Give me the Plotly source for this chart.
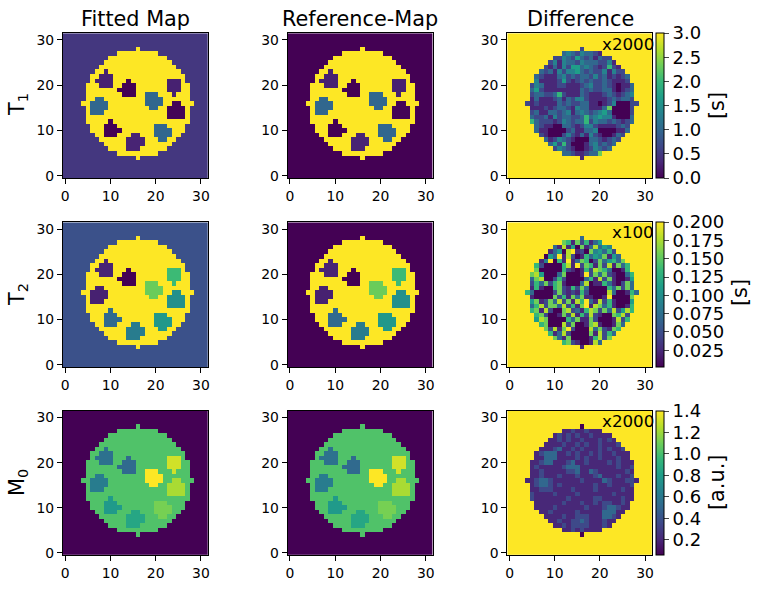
import plotly.graph_objects as go

WIDTH, HEIGHT = 761, 589

# Phantom layout, top row first: "." air, "w" water, A-I the vials.
PHANTOM_ROWS = [
    "................................",
    "................................",
    "................................",
    "................w...............",
    "............wwwwwwwww...........",
    "..........wwwwwwwwwwwww.........",
    ".........wwwwwwwwwwwwwww........",
    "........wwwwwwwwwwwwwwwww.......",
    ".......wwAwwwwwwwwwwwwwwww......",
    "......wwAAAwwwwwwwwwwwwwwww.....",
    "......wAAAAwwwBwwwwwwwwCCCw.....",
    ".....wwwAAAwwBBBwwwwwwwCCCww....",
    ".....wwwwwwwBBBBwwwwwwwCCCww....",
    ".....wwwwwwwwBBBwwDDDwwwCwww....",
    ".....wwFFwwwwwwwwwDDDDwwwwww....",
    "....wwFFFFwwwwwwwwDDDDwwEEwww...",
    ".....wFFFFwwwwwwwwwDDwwEEEEw....",
    ".....wFFFwwwwwwwwwwwwwwEEEEw....",
    ".....wwwwwwwwwwwwwwwwwwEEEEw....",
    ".....wwwwwGwwwwwwwwwwwwwwwww....",
    "......wwwGGGwwwwwwwwIIIwwww.....",
    "......wwwGGGGwwwwwwwIIIIwww.....",
    ".......wwGGGwwwHHwwwIIIIww......",
    "........wwwwwwHHHHwwwIIww.......",
    ".........wwwwwHHHHwwwwww........",
    "..........wwwwHHHwwwwww.........",
    "............wwwwwwwww...........",
    "................w...............",
    "................................",
    "................................",
    "................................",
    "................................",
]

# Normalised colour level of each region in the two left-hand columns.
T1_LEVELS = dict(w=1.0, A=0.09, B=0.0, C=0.09, D=0.33, E=0.01, F=0.33, G=0.0, H=0.1, I=0.33)
T2_LEVELS = dict(w=1.0, A=0.1, B=0.0, C=0.68, D=0.77, E=0.5, F=0.09, G=0.34, H=0.42, I=0.53)
M0_LEVELS = dict(w=0.72, A=0.37, B=0.34, C=0.93, D=1.0, E=0.87, F=0.42, G=0.54, H=0.59, I=0.79)
T1_AIR_FITTED = 0.16
T2_AIR_FITTED = 0.25

# Difference maps in tenths of the colour range, one string per row of the disc (rows 28 to 4).
T1_DIFF = [
    "2", "34324 3321", "22432 53231 322", "24143 32433 32241", "21314 25534 32126 21",
    "32314 24453 23224 1422", "32111 34232 33242 31212 3", "41111 25212 32322 32111 2",
    "24311 12211 12342 23210 113", "35211 11111 13232 23310 123", "23322 36211 13211 12321 234",
    "13111 23132 44211 11232 332", "21211 11323 22331 10124 00022", "11121 23321 43311 13700 002",
    "23113 32341 34323 45300 002", "32231 42332 23634 54410 003", "63222 12432 33624 33232 123",
    "32110 03321 24421 11123 2", "31100 00231 13340 00011 3", "21000 24213 14210 0132",
    "31243 21000 33212 32", "35262 00013 42323", "24321 00124 323", "33211 2337", "1",
]
T2_DIFF = [
    "3", "76172 6135", "31815 07138 354", "13508 91207 45362", "05391 82016 35471 53",
    "14906 19137 60273 5637", "62000 06819 27617 28173 6", "70000 06210 16287 63001 6",
    "78500 03700 01927 37210 036", "37800 26200 00361 82710 015", "26372 67100 03801 16310 273",
    "16100 67216 27300 00637 273", "63000 02721 21620 00083 00163", "10000 72617 37110 01900 007",
    "57127 38271 86931 82610 005", "36827 73826 17918 73610 016", "67182 00782 31687 27382 586",
    "67200 17281 62821 00768 2", "58700 00637 11720 00182 6", "67000 82700 17810 0173",
    "72817 92000 83721 76", "61382 00007 18263", "73170 00016 827", "67210 0183", "1",
]
M0_DIFF = [
    "0", "11211 2111", "12121 21121 111", "11212 11211 12121", "11112 11212 11211 12",
    "11123 11212 11121 2112", "12333 11212 11212 11211 1", "11333 11112 12112 11121 1",
    "11233 11123 11211 11212 111", "12111 11233 31111 11112 112", "11211 11122 31132 11111 121",
    "11211 12111 21112 31112 112", "11233 21111 11211 11321 11221", "12332 12111 11112 11211 112",
    "11222 11112 11112 11111 211", "21111 21111 21111 11121 111", "21111 11121 11112 21111 211",
    "11111 12111 21121 22112 1", "11112 11111 12111 23321 1", "11211 11121 11113 3311",
    "11112 11222 11133 21", "11211 22321 11211", "11212 22211 121", "11212 1111", "0",
]

COLUMN_TITLES = ["Fitted Map", "Reference-Map", "Difference"]
ROW_TITLES = ["T<sub>1</sub>", "T<sub>2</sub>", "M<sub>0</sub>"]
SCALE_LABELS = ["x2000", "x100", "x2000"]
UNIT_TITLES = ["[s]", "[s]", "[a.u.]"]
T1_TICKS = [0.0, 0.5, 1.0, 1.5, 2.0, 2.5, 3.0]
T2_TICKS = [0.025, 0.05, 0.075, 0.1, 0.125, 0.15, 0.175, 0.2]
M0_TICKS = [0.2, 0.4, 0.6, 0.8, 1.0, 1.2, 1.4]
TICK_TEXT = [
    ["0.0", "0.5", "1.0", "1.5", "2.0", "2.5", "3.0"],
    ["0.025", "0.050", "0.075", "0.100", "0.125", "0.150", "0.175", "0.200"],
    ["0.2", "0.4", "0.6", "0.8", "1.0", "1.2", "1.4"],
]
DIFF_RANGE = [(0.0, 3.0), (0.002, 0.2), (0.06, 1.4)]

# Panel edges on the page, in pixels.
COL_EDGES = [(63.0, 207.7), (287.7, 432.6), (507.3, 651.8)]
ROW_EDGES = [(33.2, 178.0), (222.3, 366.9), (410.8, 555.2)]
FONT = "DejaVu Sans"


def region_map(levels, air):
    """Turn the phantom layout into a map of values, bottom row first."""
    return [[air if c == "." else levels[c] for c in row] for row in reversed(PHANTOM_ROWS)]


def difference_map(rows, low, high):
    """Expand disc rows into a full map; everything outside the disc saturates."""
    grid = [[high] * 32 for _ in range(32)]
    for offset, row in enumerate(rows):
        digits = row.replace(" ", "")
        y = 28 - offset
        layout_row = PHANTOM_ROWS[31 - y].rstrip(".")
        start = len(layout_row) - len(layout_row.lstrip("."))
        if len(digits) != len(layout_row) - start:
            raise ValueError(f"row {y}: {len(digits)} cells")
        for i, d in enumerate(digits):
            grid[y][start + i] = low + (high - low) * int(d) / 9
    return grid


panels = [
    [region_map(T1_LEVELS, T1_AIR_FITTED), region_map(T1_LEVELS, 0.0), difference_map(T1_DIFF, *DIFF_RANGE[0])],
    [region_map(T2_LEVELS, T2_AIR_FITTED), region_map(T2_LEVELS, 0.0), difference_map(T2_DIFF, *DIFF_RANGE[1])],
    [region_map(M0_LEVELS, 0.0), region_map(M0_LEVELS, 0.0), difference_map(M0_DIFF, *DIFF_RANGE[2])],
]
bar_ticks = [T1_TICKS, T2_TICKS, M0_TICKS]

fig = go.Figure()
layout_axes = {}
annotations = []


def page_x(px):
    return px / WIDTH


def page_y(py):
    return 1 - py / HEIGHT


for r in range(3):
    y0, y1 = ROW_EDGES[r]
    for c in range(3):
        x0, x1 = COL_EDGES[c]
        n = r * 3 + c + 1
        suffix = "" if n == 1 else str(n)
        trace = dict(
            z=panels[r][c],
            x=list(range(32)),
            y=list(range(32)),
            colorscale="Viridis",
            xaxis=f"x{suffix}",
            yaxis=f"y{suffix}",
            showscale=False,
            hoverinfo="skip",
        )
        if c == 2:
            low, high = DIFF_RANGE[r]
            trace.update(
                zmin=low,
                zmax=high,
                showscale=True,
                colorbar=dict(
                    x=page_x(656),
                    xanchor="left",
                    xpad=0,
                    y=page_y((y0 + y1) / 2),
                    yanchor="middle",
                    ypad=0,
                    len=(y1 - y0) / HEIGHT,
                    lenmode="fraction",
                    thickness=8.3,
                    thicknessmode="pixels",
                    outlinewidth=1,
                    outlinecolor="#000",
                    ticks="outside",
                    ticklen=5,
                    tickwidth=1.1,
                    tickvals=bar_ticks[r],
                    ticktext=TICK_TEXT[r],
                    tickfont=dict(family=FONT, size=18, color="#000"),
                ),
            )
        else:
            trace.update(zmin=0.0, zmax=1.0)
        fig.add_trace(go.Heatmap(**trace))

        common = dict(
            range=[-0.5, 31.5],
            tickvals=[0, 10, 20, 30],
            ticks="outside",
            ticklen=5,
            tickwidth=1.1,
            tickcolor="#000",
            showline=True,
            mirror=True,
            linecolor="#000",
            linewidth=1.1,
            showgrid=False,
            zeroline=False,
            tickfont=dict(family=FONT, size=13.9, color="#000"),
        )
        layout_axes[f"xaxis{suffix}"] = dict(common, domain=[page_x(x0), page_x(x1)], anchor=f"y{suffix}")
        layout_axes[f"yaxis{suffix}"] = dict(common, domain=[page_y(y1), page_y(y0)], anchor=f"x{suffix}")


def note(text, px, py, size, angle=0, xanchor="center"):
    annotations.append(
        dict(
            text=text,
            x=page_x(px),
            y=page_y(py),
            xref="paper",
            yref="paper",
            xanchor=xanchor,
            yanchor="middle",
            showarrow=False,
            textangle=angle,
            font=dict(family=FONT, size=size, color="#000"),
        )
    )


for title, px in zip(COLUMN_TITLES, (135.3, 360, 580)):
    note(title, px, 19, 20.8)
for title, py in zip(ROW_TITLES, (105, 295, 483)):
    note(title, 18, py, 20.8, angle=-90)
for label, px, py in zip(SCALE_LABELS, (600, 610, 600), (44, 232, 421)):
    note(label, px, py, 16.7, xanchor="left")
for label, px, py in zip(UNIT_TITLES, (717, 740, 717), (106, 293, 483)):
    note(label, px, py, 20.8, angle=-90)

fig.update_layout(
    width=WIDTH,
    height=HEIGHT,
    margin=dict(l=0, r=0, t=0, b=0, autoexpand=False),
    paper_bgcolor="white",
    plot_bgcolor="white",
    annotations=annotations,
    **layout_axes,
)

fig.write_html("out.html", config=dict(displayModeBar=False))
